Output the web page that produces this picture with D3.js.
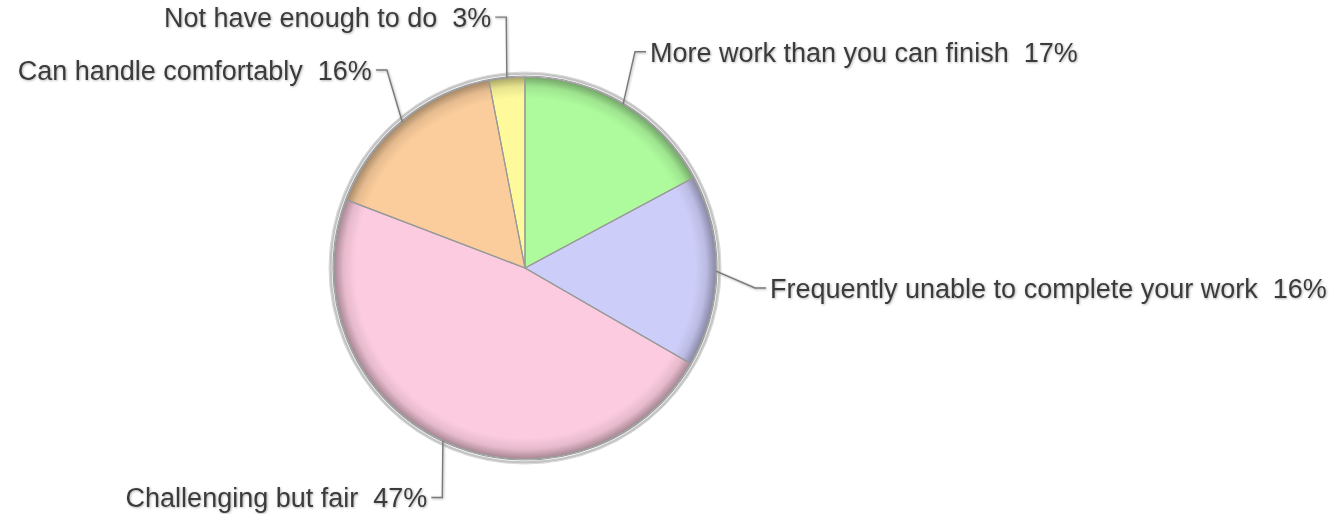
<!DOCTYPE html>
<html>
<head>
<meta charset="utf-8">
<script src="https://cdn.jsdelivr.net/npm/d3@7"></script>
<style>
  html, body { margin: 0; padding: 0; background: #ffffff; }
  svg { display: block; }
  .lbl { font-family: "Liberation Sans", Arial, sans-serif; font-size: 27px; fill: #3a3a3a; white-space: pre; }
</style>
</head>
<body>
<svg id="chart" width="1334" height="514"></svg>
<script>
// Survey answers: how would you describe your workload?
const categories = [
  "More work than you can finish",
  "Frequently unable to complete your work",
  "Challenging but fair",
  "Can handle comfortably",
  "Not have enough to do"
];
const percents = [17, 16, 47, 16, 3];
const sliceColors = ["#aefb9d", "#cdcdf9", "#fccbdf", "#fbcd9c", "#fefa9c"];

// Layout
const W = 1334, H = 514;
const cx = 525, cy = 268, R = 191;
const elbowRx = 218, elbowRy = 252;     // ellipse on which leader lines bend
const leaderNudgeX = [-2, 12, 11, 2, 2]; // small shifts to keep labels apart
const leaderNudgeY = [0, 16, 2, -5, 0];
const tickLen = 11, textGap = 4;

const svg = d3.select("#chart");
const defs = svg.append("defs");

// Darkened rim to give the pie a rounded look
const rim = defs.append("radialGradient")
  .attr("id", "rim").attr("gradientUnits", "userSpaceOnUse")
  .attr("cx", cx).attr("cy", cy).attr("r", R);
rim.append("stop").attr("offset", "0.89").attr("stop-color", "#000").attr("stop-opacity", 0);
rim.append("stop").attr("offset", "0.95").attr("stop-color", "#000").attr("stop-opacity", 0.09);
rim.append("stop").attr("offset", "1").attr("stop-color", "#000").attr("stop-opacity", 0.34);

// Soft grey halo behind label text and leader lines
const halo = defs.append("filter").attr("id", "halo")
  .attr("x", "-5%").attr("y", "-30%").attr("width", "110%").attr("height", "160%");
halo.append("feDropShadow").attr("dx", 0.8).attr("dy", 0.8)
  .attr("stdDeviation", 0.9).attr("flood-color", "#8a8a8a").attr("flood-opacity", 0.7);

const data = categories.map((c, i) => ({ name: c, value: percents[i], color: sliceColors[i], idx: i }));

const pie = d3.pie().sort(null).value(d => d.value).startAngle(0).endAngle(2 * Math.PI);
const arcs = pie(data);
const arc = d3.arc().innerRadius(0).outerRadius(R);

const g = svg.append("g").attr("transform", `translate(${cx},${cy})`);

// Outer grey rings
g.append("circle").attr("r", R + 3.5).attr("fill", "none").attr("stroke", "#c4c4c4").attr("stroke-width", 2.5);
g.append("circle").attr("r", R + 5).attr("fill", "none").attr("stroke", "#d8d8d8").attr("stroke-width", 1);

// Slices
g.selectAll("path.slice").data(arcs).join("path")
  .attr("class", "slice")
  .attr("d", arc)
  .attr("fill", d => d.data.color);

// Rim shading
g.append("circle").attr("r", R).attr("fill", "url(#rim)")
  .attr("transform", `translate(${-cx},${-cy})`)
  .attr("cx", cx).attr("cy", cy);

// Slice borders on top of shading
g.selectAll("path.edge").data(arcs).join("path")
  .attr("class", "edge")
  .attr("d", arc)
  .attr("fill", "none")
  .attr("stroke", "#9a9a9a")
  .attr("stroke-width", 1.2);

g.append("circle").attr("r", R + 1).attr("fill", "none").attr("stroke", "#9c9c9c").attr("stroke-width", 1.2);

// Leader lines and labels
const lab = svg.append("g").attr("filter", "url(#halo)");
arcs.forEach(a => {
  const i = a.data.idx;
  const mid = (a.startAngle + a.endAngle) / 2;
  const sx = cx + R * Math.sin(mid);
  const sy = cy - R * Math.cos(mid);
  const ex = cx + elbowRx * Math.sin(mid) + leaderNudgeX[i];
  const ey = cy - elbowRy * Math.cos(mid) + leaderNudgeY[i];
  const right = Math.sin(mid) >= 0;
  const tx = ex + (right ? tickLen : -tickLen);

  lab.append("path")
    .attr("d", `M${sx},${sy}L${ex},${ey}L${tx},${ey}`)
    .attr("fill", "none")
    .attr("stroke", "#7a7a7a")
    .attr("stroke-width", 1.4);

  lab.append("text")
    .attr("class", "lbl")
    .attr("x", tx + (right ? textGap : -textGap))
    .attr("y", ey)
    .attr("dy", "0.36em")
    .attr("text-anchor", right ? "start" : "end")
    .text(`${a.data.name}  ${a.data.value}%`);
});
</script>
</body>
</html>
